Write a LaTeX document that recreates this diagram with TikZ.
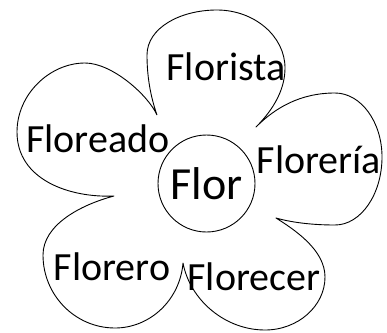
\documentclass[tikz,border=0pt]{standalone}
\usepackage{fontspec}
\setmainfont{Carlito}
\tikzset{
  outline/.style={draw=black, line width=0.9pt, line join=round},
  lbl/.style={anchor=base, inner sep=0pt, font=\fontsize{40}{40}\selectfont},
  center/.style={draw=black, line width=0.9pt, circle, minimum size=97pt, inner sep=0pt}
}
\begin{document}
\begin{tikzpicture}[x=1pt,y=-1pt]
\useasboundingbox (0,0) rectangle (387,332);
% petals
\coordinate (c1) at (157,115);
\coordinate (c2) at (256,127);
\coordinate (c3) at (276,218);
\coordinate (c4) at (183,263);
\coordinate (c5) at (114,196);
\draw[outline]
  (c1) .. controls (150,95) and (147,75) .. (147,55)
       .. controls (147,28) and (180,10) .. (217,10)
       .. controls (254,10) and (285,36) .. (285,68)
       .. controls (285,88) and (275,108) .. (c2)
       .. controls (275,108) and (300,93) .. (335,93)
       .. controls (361,93) and (382,122) .. (382,157)
       .. controls (382,194) and (361,225) .. (335,225)
       .. controls (310,225) and (290,222) .. (c3)
       .. controls (295,230) and (325,250) .. (325,277)
       .. controls (325,306) and (298,330) .. (265,330)
       .. controls (225,330) and (190,300) .. (c4)
       .. controls (180,300) and (150,328) .. (115,328)
       .. controls (75,328) and (43,295) .. (43,255)
       .. controls (43,225) and (80,205) .. (c5)
       .. controls (70,198) and (17,180) .. (17,132)
       .. controls (17,94) and (50,63) .. (85,63)
       .. controls (112,63) and (148,95) .. (c1);
\node[center] (flor) at (206.5,183.5) {};
\node[lbl, font=\fontsize{46}{46}\selectfont] (flortext) at (206.5,199) {Flor};
\node[lbl] (florista) at (226,80) {Florista};
\node[lbl] (floreado) at (98,152) {Floreado};
\node[lbl] (floreria) at (319,173) {Florería};
\node[lbl] (florero) at (112,280) {Florero};
\node[lbl] (florecer) at (254,290) {Florecer};
\end{tikzpicture}
\end{document}
